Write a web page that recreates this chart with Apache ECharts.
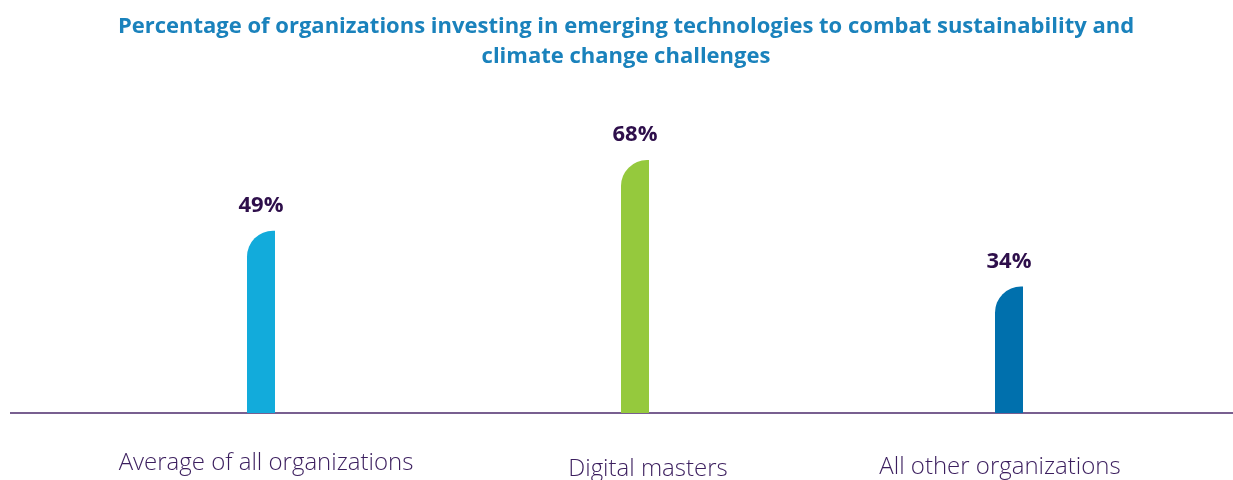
<!DOCTYPE html>
<html>
<head>
<meta charset="utf-8">
<script src="https://cdn.jsdelivr.net/npm/echarts@6/dist/echarts.min.js"></script>
<style>
  html, body { margin: 0; padding: 0; background: #fff; }
  #chart { width: 1233px; height: 480px; }
</style>
</head>
<body>
<div id="chart"></div>
<script>
// 数据
const categories = ["Average of all organizations", "Digital masters", "All other organizations"];
const values = [49, 68, 34];
const barColors = ["#12ABDB", "#95C93D", "#0070AD"];
// 每个分类标签的微调（rich 样式名）
const labelStyles = ["a", "b", "c"];

const myChart = echarts.init(document.getElementById("chart"));

const labelBase = {
  color: "#3B1E5E",
  fontFamily: "Open Sans",
  fontWeight: 300,
  fontSize: 24
};

myChart.setOption({
  animation: false,
  title: {
    text: "Percentage of organizations investing in emerging technologies to combat sustainability and\nclimate change challenges",
    left: 621,
    textAlign: "center",
    top: 7,
    textStyle: {
      color: "#1A82BC",
      fontFamily: "Open Sans",
      fontWeight: "bold",
      fontSize: 22,
      lineHeight: 30
    }
  },
  grid: {
    left: 74,
    right: 37,
    top: 41,
    bottom: 67,
    outerBoundsMode: "none"
  },
  xAxis: {
    type: "category",
    data: categories,
    axisLine: { show: false },
    axisTick: { show: false },
    axisLabel: {
      margin: 38,
      formatter: (val, idx) => `{${labelStyles[idx]}|${val}}`,
      rich: {
        a: Object.assign({ padding: [0, 0, 0, 10] }, labelBase),
        b: Object.assign({ padding: [6, 0, 0, 26] }, labelBase),
        c: Object.assign({ padding: [4, 18, 0, 0] }, labelBase)
      }
    }
  },
  yAxis: {
    type: "value",
    min: 0,
    max: 100,
    show: false,
    splitLine: { show: false }
  },
  // 底部横线，贯穿整个宽度
  graphic: [{
    type: "line",
    shape: { x1: 10, y1: 413, x2: 1233, y2: 413 },
    style: { stroke: "#4B2A6B", lineWidth: 1.5 },
    z: 1
  }],
  series: [{
    type: "bar",
    barWidth: 28,
    z: 2,
    data: values.map((v, i) => ({
      value: v,
      itemStyle: { color: barColors[i], borderRadius: [26, 0, 0, 0] }
    })),
    label: {
      show: true,
      position: "top",
      distance: 14,
      formatter: "{c}%",
      color: "#2E0F4B",
      fontFamily: "Open Sans",
      fontWeight: "bold",
      fontSize: 22
    }
  }]
});
</script>
</body>
</html>
